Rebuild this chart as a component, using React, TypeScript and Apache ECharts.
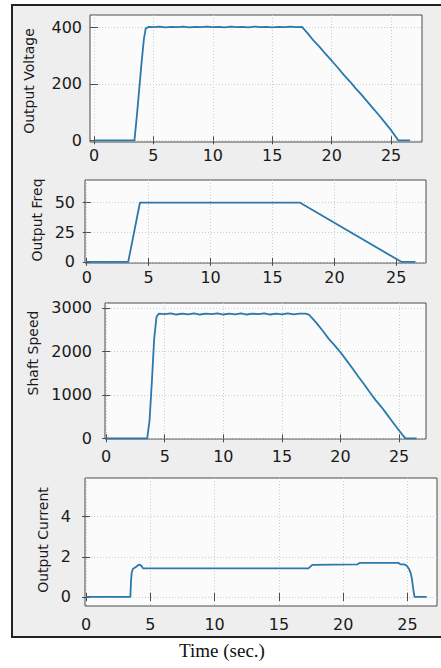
import React, { useEffect, useRef } from "react";
import * as echarts from "echarts";

// ---- data ----
const X_TICKS = [0, 5, 10, 15, 20, 25];

const VOLT_T = [0, 3.4, 3.6, 3.8, 4.0, 4.2, 4.35, 4.6, 5, 5.5, 6, 6.5, 7, 7.5, 8, 8.5, 9, 9.5, 10, 10.5, 11, 11.5, 12, 12.5, 13, 13.5, 14, 14.5, 15, 15.5, 16, 16.5, 17, 17.5, 18, 18.5, 19, 19.5, 20, 20.5, 21, 21.5, 22, 22.5, 23, 23.5, 24, 24.5, 25, 25.3, 25.6, 26.6];
const VOLT = [0, 0, 85, 180, 275, 360, 396, 402, 401, 403, 400, 402, 401, 403, 400, 402, 401, 403, 401, 402, 400, 403, 401, 402, 400, 403, 401, 402, 400, 402, 401, 403, 401, 402, 378, 352, 330, 305, 282, 258, 233, 210, 185, 162, 137, 112, 88, 62, 36, 18, 0, 0];
const VOLT_TICKS = [0, 200, 400];

const FREQ_T = [0, 3.35, 4.3, 17.2, 25.4, 26.55];
const FREQ = [0, 0, 50, 50, 0, 0];
const FREQ_TICKS = [0, 25, 50];

const SPEED_T = [0, 3.5, 3.7, 3.9, 4.1, 4.3, 4.5, 5, 5.5, 6, 6.5, 7, 7.5, 8, 8.5, 9, 9.5, 10, 10.5, 11, 11.5, 12, 12.5, 13, 13.5, 14, 14.5, 15, 15.5, 16, 16.5, 17, 17.3, 17.6, 18, 18.5, 19, 19.5, 20, 20.5, 21, 21.5, 22, 22.5, 23, 23.5, 24, 24.5, 25, 25.5, 25.6, 26.5];
const SPEED = [0, 0, 400, 1300, 2300, 2800, 2870, 2860, 2875, 2850, 2870, 2855, 2875, 2850, 2870, 2860, 2875, 2850, 2870, 2855, 2875, 2850, 2870, 2860, 2875, 2850, 2870, 2855, 2875, 2855, 2870, 2870, 2850, 2760, 2640, 2470, 2290, 2140, 1980, 1800, 1620, 1430, 1250, 1060, 880, 720, 540, 360, 180, 10, 0, 0];
const SPEED_TICKS = [0, 1000, 2000, 3000];

const CURR_T = [0, 3.45, 3.5, 3.55, 3.65, 3.85, 4.0, 4.15, 4.3, 4.45, 17.3, 17.6, 21.1, 21.3, 24.3, 24.45, 24.75, 24.95, 25.1, 25.25, 25.35, 25.45, 25.55, 26.5];
const CURR = [0, 0, 0.8, 1.2, 1.4, 1.48, 1.55, 1.62, 1.55, 1.42, 1.42, 1.6, 1.62, 1.7, 1.7, 1.62, 1.62, 1.55, 1.42, 1.2, 0.9, 0.4, 0, 0];
const CURR_TICKS = [0, 2, 4];

const NAMES = ["Output Voltage", "Output Freq", "Shaft Speed", "Output Current"];

const LINE = "#2b78ac";
const AXIS = "#4a4a4a";
const FONT = "DejaVu Sans";

type Panel = {
  left: number; top: number; width: number; height: number;
  xmin: number; xmax: number; ymin: number; ymax: number;
  yticks: number[]; t: number[]; v: number[];
  ylm: number; xlm: number;
  nameX: number; nameY: number;
};

const PANELS: Panel[] = [
  { left: 90, top: 15, width: 332, height: 127, xmin: -0.34, xmax: 27.6, ymin: -6, ymax: 444, yticks: VOLT_TICKS, t: VOLT_T, v: VOLT, ylm: 8, xlm: 5, nameX: 29, nameY: 81 },
  { left: 85, top: 180, width: 341, height: 83, xmin: -0.14, xmax: 27.4, ymin: -1, ymax: 69, yticks: FREQ_TICKS, t: FREQ_T, v: FREQ, ylm: 10, xlm: 6, nameX: 37, nameY: 220 },
  { left: 105, top: 303, width: 321, height: 136, xmin: -0.1, xmax: 27.3, ymin: -15, ymax: 3115, yticks: SPEED_TICKS, t: SPEED_T, v: SPEED, ylm: 13, xlm: 9, nameX: 33, nameY: 353 },
  { left: 85, top: 478, width: 352, height: 128, xmin: -0.08, xmax: 27.3, ymin: -0.45, ymax: 5.92, yticks: CURR_TICKS, t: CURR_T, v: CURR, ylm: 14, xlm: 10, nameX: 43, nameY: 540 },
];

export default function App() {
  const ref = useRef<HTMLDivElement>(null);
  useEffect(() => {
    if (!ref.current) return;
    const chart = echarts.init(ref.current, null, { renderer: "svg" });
    const grid: any[] = [];
    const xAxis: any[] = [];
    const yAxis: any[] = [];
    const series: any[] = [];
    const fmt = (v: number) => String(v);
    PANELS.forEach((p, i) => {
      grid.push({
        left: p.left, top: p.top, width: p.width, height: p.height,
        show: true, backgroundColor: "#fbfbfb", borderColor: AXIS, borderWidth: 1,
      });
      const tickStyle = { show: true, inside: false, length: 4, lineStyle: { color: AXIS, width: 1 } };
      xAxis.push({
        type: "value", gridIndex: i, position: "bottom", min: p.xmin, max: p.xmax,
        axisLine: { show: false },
        axisTick: { ...tickStyle, customValues: X_TICKS },
        axisLabel: { customValues: X_TICKS, margin: p.xlm, color: "#1a1a1a", fontFamily: FONT, fontSize: 16, formatter: fmt },
        splitLine: { show: true, lineStyle: { color: "#c3cfd6", type: [1, 2], width: 1 } },
      });
      xAxis.push({
        type: "value", gridIndex: i, position: "top", min: p.xmin, max: p.xmax,
        axisLine: { show: false },
        axisTick: { ...tickStyle, customValues: X_TICKS },
        axisLabel: { show: false, customValues: X_TICKS },
        splitLine: { show: false },
      });
      yAxis.push({
        type: "value", gridIndex: i, position: "left", min: p.ymin, max: p.ymax,
        axisLine: { show: false },
        axisTick: { ...tickStyle, customValues: p.yticks },
        axisLabel: { customValues: p.yticks, margin: p.ylm, color: "#1a1a1a", fontFamily: FONT, fontSize: 16, formatter: fmt },
        splitLine: { show: true, lineStyle: { color: "#c3cfd6", type: [1, 2], width: 1 } },
      });
      yAxis.push({
        type: "value", gridIndex: i, position: "right", min: p.ymin, max: p.ymax,
        axisLine: { show: false },
        axisTick: { ...tickStyle, customValues: p.yticks },
        axisLabel: { show: false, customValues: p.yticks },
        splitLine: { show: false },
      });
      series.push({
        type: "line", xAxisIndex: i * 2, yAxisIndex: i * 2, showSymbol: false,
        data: p.t.map((t, k) => [t, p.v[k]]),
        lineStyle: { color: LINE, width: 1.8 },
        itemStyle: { color: LINE },
      });
    });
    const graphic: any[] = [
      { type: "rect", z: -10, shape: { x: 12, y: 5, width: 440, height: 632 }, style: { fill: "#eeeeee", stroke: "#222", lineWidth: 2 } },
      ...PANELS.map((p, i) => ({
        type: "text", x: p.nameX, y: p.nameY, rotation: Math.PI / 2,
        style: { text: NAMES[i], fill: "#1a1a1a", font: `14px "${FONT}"`, align: "center", verticalAlign: "middle" },
      })),
      { type: "text", x: 222, y: 650, style: { text: "Time (sec.)", fill: "#111", font: '19px "Liberation Serif"', align: "center", verticalAlign: "middle" } },
    ];
    chart.setOption({ animation: false, backgroundColor: "#ffffff", grid, xAxis, yAxis, series, graphic });
    return () => chart.dispose();
  }, []);
  return <div ref={ref} style={{ position: "fixed", left: 0, top: 0, width: 441, height: 668 }} />;
}
